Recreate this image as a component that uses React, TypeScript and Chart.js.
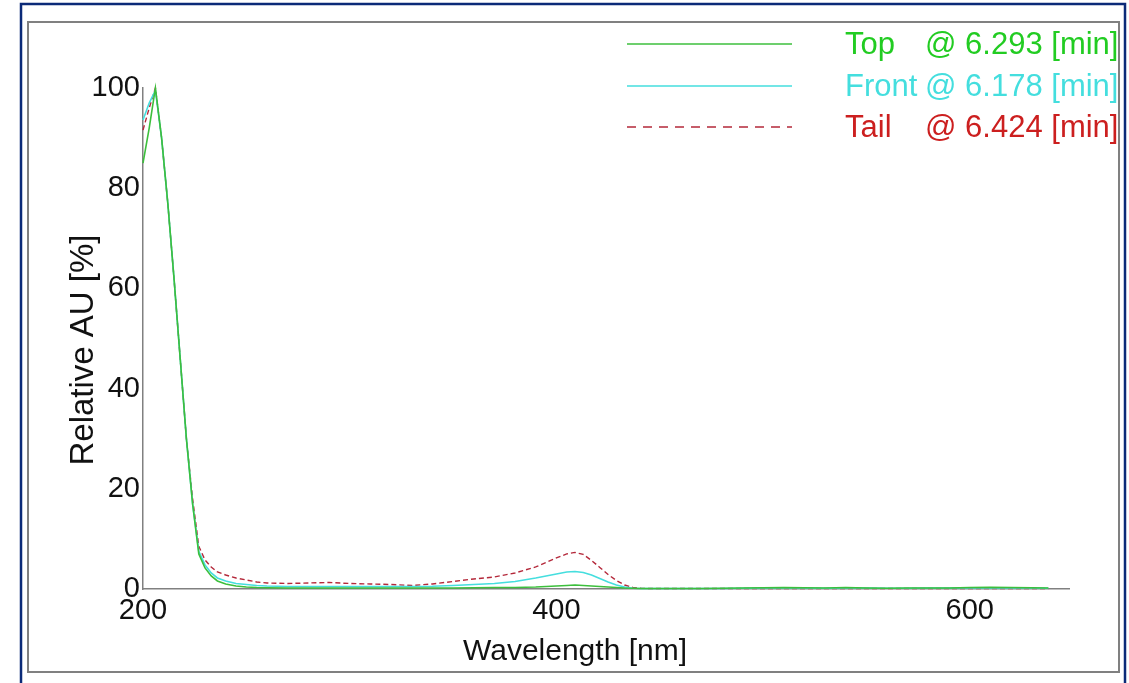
import React, { useEffect, useRef } from "react";
import { Chart, registerables } from "chart.js";

Chart.register(...registerables);

const wavelengths = [200,203,206,209,212,215,218,221,224,227,230,233,236,240,245,250,255,260,270,280,290,300,310,320,330,340,350,360,370,380,390,395,400,405,409,413,417,421,425,429,433,437,441,445,450,460,470,480,490,500,510,520,530,540,550,560,570,580,590,600,610,620,630,638];

const topValues = [85,92,100,90,77,62,46,30,17,7,
  4.2,2.6,1.6,1.0,0.6,0.4,0.3,0.25,
  0.2,0.2,0.2,0.2,0.2,0.2,0.2,0.2,0.2,0.25,
  0.3,0.3,0.4,0.5,0.6,0.7,0.8,0.7,0.6,0.5,
  0.4,0.3,0.2,0.15,0.1,0.1,0.1,0.1,0.1,0.15,
  0.2,0.25,0.3,0.25,0.2,0.3,0.2,0.15,0.2,0.2,
  0.2,0.3,0.35,0.3,0.25,0.2];

const frontValues = [93.6,97,99.5,90,77,62,46,30,17,7.5,
  4.8,3.2,2.2,1.6,1.1,0.9,0.7,0.6,
  0.5,0.5,0.5,0.5,0.5,0.5,0.5,0.55,0.7,0.9,
  1.1,1.5,2.2,2.6,3.0,3.4,3.5,3.3,2.8,2.1,
  1.4,0.8,0.4,0.15,0.1,0.1,0.1,0.1,0.1,0.1,
  0.15,0.2,0.2,0.2,0.15,0.2,0.2,0.15,0.15,0.2,
  0.2,0.25,0.2,0.2,0.2,0.15];

const tailValues = [91.6,96,100,90,77,62,46,30,18,8.5,
  5.8,4.4,3.4,2.8,2.2,1.8,1.4,1.2,
  1.1,1.2,1.3,1.1,1.0,0.9,0.7,1.0,1.5,2.0,
  2.4,3.2,4.4,5.3,6.2,7.0,7.3,6.9,5.7,4.3,
  2.9,1.7,0.8,0.3,0.15,0.1,0.1,0.1,0.1,0.1,
  0.1,0.1,0.1,0.1,0.1,0.1,0.1,0.1,0.1,0.1,
  0.1,0.1,0.1,0.1,0.1,0.1];

const xTickValues = [200, 400, 600];
const yTickValues = [0, 20, 40, 60, 80, 100];

const legendNames = ["Top", "Front", "Tail"];
const legendTimes = ["@ 6.293 [min]", "@ 6.178 [min]", "@ 6.424 [min]"];
const lineColors = ["#3cbf3c", "#45dede", "#b4283a"];
const textColors = ["#22cc22", "#44dede", "#cc1f1f"];

const xTitle = "Wavelength [nm]";
const yTitle = "Relative AU [%]";

const FONT = '"Liberation Sans", Arial, sans-serif';

const decorPlugin = {
  id: "decor",
  beforeDraw(chart: any) {
    const ctx = chart.ctx;
    ctx.save();
    ctx.fillStyle = "#ffffff";
    ctx.fillRect(0, 0, chart.width, chart.height);
    ctx.strokeStyle = "#0b2a78";
    ctx.lineWidth = 2.5;
    ctx.strokeRect(21, 4, 1104, 700);
    ctx.strokeStyle = "#808080";
    ctx.lineWidth = 2;
    ctx.strokeRect(28, 22, 1091, 650);
    ctx.restore();
  },
  afterDraw(chart: any) {
    const ctx = chart.ctx;
    ctx.save();
    // legend
    const rows = [44, 86, 127];
    rows.forEach((y, i) => {
      ctx.beginPath();
      ctx.strokeStyle = lineColors[i];
      ctx.lineWidth = 1.6;
      ctx.setLineDash(i === 2 ? [9, 7] : []);
      ctx.moveTo(627, y);
      ctx.lineTo(792, y);
      ctx.stroke();
      ctx.setLineDash([]);
      ctx.fillStyle = textColors[i];
      ctx.font = `31px ${FONT}`;
      ctx.textBaseline = "alphabetic";
      ctx.textAlign = "left";
      ctx.fillText(legendNames[i], 845, y + 10);
      ctx.fillText(legendTimes[i], 925, y + 10);
    });
    // axis titles
    ctx.fillStyle = "#111111";
    ctx.font = `30px ${FONT}`;
    ctx.textAlign = "center";
    ctx.textBaseline = "alphabetic";
    ctx.fillText(xTitle, 575, 660);
    ctx.translate(93, 350);
    ctx.rotate(-Math.PI / 2);
    ctx.font = `33px ${FONT}`;
    ctx.fillText(yTitle, 0, 0);
    ctx.restore();
  },
};

export default function App() {
  const ref = useRef<HTMLCanvasElement | null>(null);
  useEffect(() => {
    if (!ref.current) return;
    const mk = (vals: number[]) => wavelengths.map((x, i) => ({ x, y: vals[i] }));
    const chart = new Chart(ref.current, {
      type: "line",
      data: {
        datasets: [
          { label: "Top", data: mk(topValues), borderColor: lineColors[0], borderWidth: 1.6, pointRadius: 0, tension: 0, clip: 6 } as any,
          { label: "Front", data: mk(frontValues), borderColor: lineColors[1], borderWidth: 1.6, pointRadius: 0, tension: 0, clip: 6 } as any,
          { label: "Tail", data: mk(tailValues), borderColor: lineColors[2], borderWidth: 1.4, borderDash: [5, 3], pointRadius: 0, tension: 0, clip: 6 } as any,
        ],
      },
      options: {
        animation: false,
        responsive: false,
        devicePixelRatio: 1,
        layout: { padding: { top: 88, right: 60, left: 0, bottom: 0 } },
        plugins: { legend: { display: false }, tooltip: { enabled: false }, title: { display: false } },
        scales: {
          x: {
            type: "linear",
            min: 200,
            max: 648,
            grid: { display: false, drawTicks: false },
            border: { display: true, color: "#808080", width: 1.5 },
            ticks: { padding: 5, color: "#111", font: { family: FONT, size: 29 }, maxRotation: 0 },
            afterBuildTicks: (s: any) => { s.ticks = xTickValues.map((v) => ({ value: v })); },
            afterFit: (s: any) => { s.height = 94; },
          },
          y: {
            min: 0,
            max: 100,
            grid: { display: false, drawTicks: false },
            border: { display: true, color: "#808080", width: 1.5 },
            ticks: { padding: 3, color: "#111", font: { family: FONT, size: 29 } },
            afterBuildTicks: (s: any) => { s.ticks = yTickValues.map((v) => ({ value: v })); },
            afterFit: (s: any) => { s.width = 143; },
          },
        },
      },
      plugins: [decorPlugin],
    } as any);
    return () => chart.destroy();
  }, []);
  return (
    <div style={{ position: "fixed", left: 0, top: 0, width: 1129, height: 683, background: "#fff" }}>
      <canvas ref={ref} width={1129} height={683} style={{ width: 1129, height: 683, display: "block" }} />
    </div>
  );
}
